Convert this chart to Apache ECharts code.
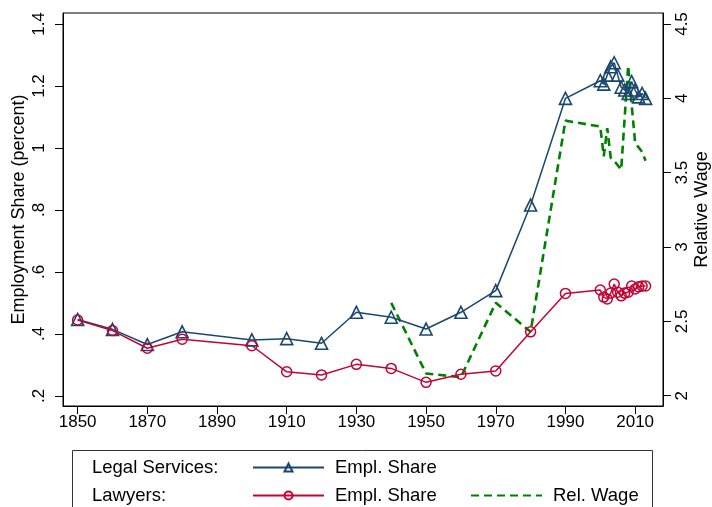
<!DOCTYPE html>
<html>
<head>
<meta charset="utf-8">
<script src="https://cdn.jsdelivr.net/npm/echarts@6/dist/echarts.min.js"></script>
<style>
html,body{margin:0;padding:0;background:#fff;}
#chart{width:712px;height:507px;}
</style>
</head>
<body>
<div id="chart"></div>
<script>
// ---- data ----
const years = [1850,1860,1870,1880,1900,1910,1920,1930,1940,1950,1960,1970,1980,1990,
  2000,2001,2002,2003,2004,2005,2006,2007,2008,2009,2010,2011,2012,2013];
const legalShare = [0.447,0.415,0.366,0.407,0.381,0.385,0.370,0.470,0.454,0.416,0.470,0.540,0.816,1.160,
  1.217,1.206,1.235,1.262,1.275,1.235,1.196,1.187,1.176,1.214,1.187,1.165,1.176,1.160];
const lawyerShare = [0.445,0.411,0.354,0.383,0.362,0.278,0.268,0.302,0.289,0.244,0.270,0.281,0.407,0.531,
  0.542,0.519,0.513,0.532,0.561,0.535,0.523,0.532,0.535,0.555,0.545,0.552,0.555,0.555];
const wageYears = [1940,1950,1960,1970,1980,1990,
  2000,2001,2002,2003,2004,2005,2006,2007,2008,2009,2010,2011,2012,2013];
const relWage = [2.625,2.15,2.125,2.625,2.43,3.85,
  3.81,3.61,3.80,3.60,3.58,3.55,3.52,3.87,4.22,3.96,3.70,3.67,3.64,3.58];
const xTicks = [1850,1870,1890,1910,1930,1950,1970,1990,2010];
const leftTicks = [0.2,0.4,0.6,0.8,1.0,1.2,1.4];
const leftTickLabels = ['.2','.4','.6','.8','1','1.2','1.4'];
const rightTicks = [2,2.5,3,3.5,4,4.5];
const rightTickLabels = ['2','2.5','3','3.5','4','4.5'];

// ---- styles ----
const NAVY = '#1a476f';
const RED = '#c10534';
const GREEN = '#008000';
const FONT = 'Liberation Sans, Arial, sans-serif';

const pairs = (xs, ys) => xs.map((x, i) => [x, ys[i]]);
const labelMap = (vals, labs) => v => {
  const i = vals.findIndex(t => Math.abs(t - v) < 1e-6);
  return i >= 0 ? labs[i] : '';
};

const chart = echarts.init(document.getElementById('chart'), null, {renderer: 'canvas'});
const legendBase = {
  orient: 'horizontal',
  itemWidth: 71,
  itemHeight: 10,
  itemGap: 0,
  padding: 0,
  textStyle: {fontFamily: FONT, fontSize: 18.5, color: '#000', padding: [0, 0, 0, 6]},
  formatter: n => n.replace('Legal ', '').replace('Lawyers ', ''),
  selectedMode: false
};
chart.setOption({
  animation: false,
  backgroundColor: '#fff',
  textStyle: {fontFamily: FONT},
  grid: {left: 63, top: 13, width: 600, height: 393, show: true, borderColor: '#000', borderWidth: 1,
    containLabel: false, outerBoundsMode: 'none'},
  xAxis: {
    type: 'value', min: 1845.8, max: 2018,
    axisLine: {lineStyle: {color: '#000', width: 1}},
    axisTick: {length: 8, lineStyle: {color: '#000'}, customValues: xTicks},
    axisLabel: {customValues: xTicks, fontSize: 17, color: '#000', margin: 8, fontFamily: FONT, formatter: v => String(v)},
    splitLine: {show: false}
  },
  yAxis: [{
    type: 'value', position: 'left', min: 0.1677, max: 1.4355,
    name: 'Employment Share (percent)', nameLocation: 'middle', nameRotate: 90, nameGap: 35, nameMoveOverlap: false,
    nameTextStyle: {fontSize: 18, color: '#000', fontFamily: FONT},
    axisLine: {show: true, lineStyle: {color: '#000', width: 1}},
    axisTick: {show: true, length: 8, lineStyle: {color: '#000'}, customValues: leftTicks},
    axisLabel: {customValues: leftTicks, rotate: 90, fontSize: 17, color: '#000', margin: 15, fontFamily: FONT,
      formatter: labelMap(leftTicks, leftTickLabels)},
    splitLine: {show: false}
  }, {
    type: 'value', position: 'right', min: 1.931, max: 4.574,
    name: 'Relative Wage', nameLocation: 'middle', nameRotate: 90, nameGap: 30, nameMoveOverlap: false,
    nameTextStyle: {fontSize: 18, color: '#000', fontFamily: FONT},
    axisLine: {show: true, lineStyle: {color: '#000', width: 1}},
    axisTick: {show: true, length: 8, lineStyle: {color: '#000'}, customValues: rightTicks},
    axisLabel: {customValues: rightTicks, rotate: 90, fontSize: 17, color: '#000', margin: 11, fontFamily: FONT,
      formatter: labelMap(rightTicks, rightTickLabels)},
    splitLine: {show: false}
  }],
  legend: [
    Object.assign({}, legendBase, {left: 252, top: 458, data: ['Legal Empl. Share']}),
    Object.assign({}, legendBase, {left: 252, top: 486, data: ['Lawyers Empl. Share']}),
    Object.assign({}, legendBase, {left: 470, top: 486, data: ['Rel. Wage'],
      itemStyle: {color: 'rgba(0,0,0,0)', borderWidth: 0, opacity: 0}})
  ],
  graphic: [
    {type: 'rect', shape: {x: 72.5, y: 450.5, width: 580, height: 80}, style: {fill: 'none', stroke: '#333', lineWidth: 1}, silent: true},
    {type: 'text', left: 92, top: 458, style: {text: 'Legal Services:', font: '18.5px ' + FONT, fill: '#000'}},
    {type: 'text', left: 92, top: 486, style: {text: 'Lawyers:', font: '18.5px ' + FONT, fill: '#000'}}
  ],
  series: [{
    name: 'Legal Empl. Share', type: 'line', yAxisIndex: 0,
    data: pairs(years, legalShare),
    symbol: 'triangle', symbolSize: 12,
    itemStyle: {color: 'rgba(255,255,255,0)', borderColor: NAVY, borderWidth: 1.6},
    lineStyle: {color: NAVY, width: 1.5},
    z: 3
  }, {
    name: 'Lawyers Empl. Share', type: 'line', yAxisIndex: 0,
    data: pairs(years, lawyerShare),
    symbol: 'circle', symbolSize: 10,
    itemStyle: {color: 'rgba(255,255,255,0)', borderColor: RED, borderWidth: 1.5},
    lineStyle: {color: RED, width: 1.5},
    z: 3
  }, {
    name: 'Rel. Wage', type: 'line', yAxisIndex: 1,
    data: pairs(wageYears, relWage),
    symbol: 'none',
    itemStyle: {color: GREEN},
    lineStyle: {color: GREEN, width: 2.6, type: [8, 5]},
    z: 2
  }]
});
</script>
</body>
</html>
